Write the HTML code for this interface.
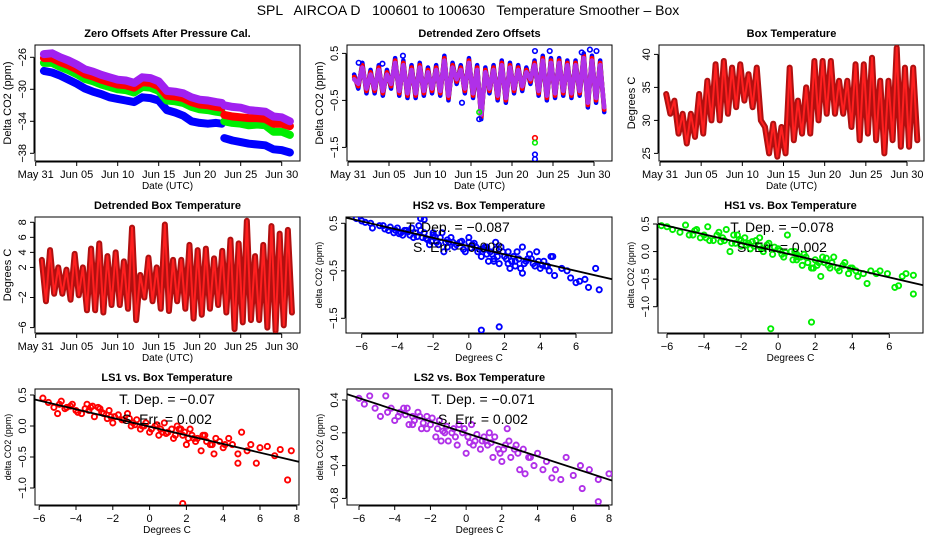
<!DOCTYPE html>
<html><head><meta charset="utf-8"><style>
html,body{margin:0;padding:0;background:#fff;}
svg{display:block;font-family:"Liberation Sans",Arial,sans-serif;}
</style></head><body>
<svg id="c" width="936" height="540" viewBox="0 0 936 540">
<text x="468" y="15" text-anchor="middle" font-size="14" style="white-space:pre">SPL   AIRCOA D   100601 to 100630   Temperature Smoother – Box</text>
</svg>
<script>
// ---- data ----
const dateTicks = [0,5,10,15,20,25,30];
const dateTickLabels = ["May 31","Jun 05","Jun 10","Jun 15","Jun 20","Jun 25","Jun 30"];
const zoDays = [1,2,3,4,5,6,7,8,9,10,11,12,13,14,15,16,17,18,19,20,21,22,22.7,23,24,25,26,27,28,29,30,31];
const zoPurple = [-25.6,-25.5,-26.0,-26.4,-26.9,-27.5,-27.8,-28.2,-28.5,-28.8,-28.9,-29.2,-28.5,-28.6,-29.0,-30.2,-30.3,-30.5,-31.0,-31.3,-31.4,-31.6,-31.7,-32.0,-32.2,-32.3,-32.6,-32.7,-32.8,-33.4,-33.5,-34.0];
const zoRed = [-26.1,-26.1,-26.6,-27.0,-27.5,-28.1,-28.4,-28.8,-29.1,-29.4,-29.5,-29.8,-29.1,-29.2,-29.6,-30.8,-30.9,-31.1,-31.6,-31.9,-32.0,-32.2,-32.3,-33.2,-33.4,-33.5,-33.6,-33.6,-33.7,-34.3,-34.3,-34.6];
const zoGreen = [-26.7,-26.7,-27.2,-27.6,-28.1,-28.7,-29.0,-29.4,-29.7,-30.0,-30.1,-30.4,-29.7,-29.8,-30.2,-31.4,-31.5,-31.7,-32.2,-32.5,-32.6,-32.8,-32.9,-34.0,-34.2,-34.3,-34.5,-34.4,-34.5,-35.3,-35.3,-35.7];
const zoBlue = [-27.7,-27.9,-28.3,-28.8,-29.3,-29.9,-30.3,-30.6,-31.0,-31.2,-31.4,-31.6,-31.0,-31.1,-31.4,-32.6,-32.9,-33.3,-34.0,-34.2,-34.3,-34.2,-34.3,-36.1,-36.4,-36.6,-36.8,-36.9,-37.0,-37.5,-37.6,-37.9];
const detMax = [0.0,0.25,0.1,0.2,0.1,0.35,0.3,0.2,0.25,0.15,0.2,0.4,0.25,0.2,0.35,0.2,0.15,0.2,0.3,0.25,0.2,0.15,0.3,0.4,0.35,0.35,0.3,0.3,0.45,0.4,0.3];
const detMin = [-0.2,-0.3,-0.3,-0.35,-0.2,-0.35,-0.4,-0.4,-0.35,-0.3,-0.35,-0.45,-0.1,-0.3,-0.4,-0.85,-0.3,-0.45,-0.5,-0.3,-0.25,-0.1,-0.35,-0.45,-0.4,-0.35,-0.4,-0.35,-0.6,-0.5,-0.7];
const detOutDay = [22.8,22.8,22.8,22.8,22.8,1.3,4.2,6.7,24.6,28.5,29.5,30.3,16.0,16.0,13.9];
const detOutVal = [-1.65,-1.75,-1.3,-1.4,0.55,0.3,0.28,0.45,0.55,0.52,0.58,0.55,-0.75,-0.9,-0.55];
const detOutColor = ["#0000ff","#0000ff","#ff0000","#00ee00","#0000ff","#0000ff","#0000ff","#0000ff","#0000ff","#0000ff","#0000ff","#0000ff","#00ee00","#0000ff","#0000ff"];
const boxMax = [34,33,31,31,34,36,38.5,39,38,38.5,37,38,29,29.5,29,38,33,35,39,39,39,36,36,38.5,38.5,39.5,36,36,41,38,38];
const boxMin = [31,28,26.5,27.5,28,30,30,31,32,33,32,30,25,24.5,25,27,28,28,30,31,31,31,29,27,28,27,25,27,26,26,27];
const dbMax = [3,4.3,2,1.7,3.8,2,4.5,5.2,3.5,4,2.8,7.3,1,3.3,2,7.7,3,3,5,4.3,4.5,3.2,4.2,5.7,5.2,8.2,3.5,5,7.5,6.5,7];
const dbMin = [-2.5,-1.5,-1.5,-2.3,-1.7,-3.7,-3.7,-4,-3,-3,-3.5,-5,-2,-2.5,-3.5,-3.8,-2.5,-3.5,-4.8,-4.3,-3.5,-3,-4,-6.2,-5.3,-5,-5,-6,-6.4,-5.7,-4];
const hs2X = [-6.3,-6.0,-5.8,-5.5,-5.4,-5.0,-4.7,-4.4,-4.2,-4.0,-3.8,-3.5,-3.3,-3.0,-2.8,-2.6,-2.5,-2.3,-2.0,-1.8,-1.5,-1.4,-1.2,-1.0,-0.8,-0.5,-0.3,0.0,0.2,0.5,0.7,0.9,1.1,1.3,1.5,1.7,1.9,2.1,2.3,2.5,2.7,3.0,3.2,3.4,3.6,3.8,4.0,4.2,4.5,4.7,4.8,5.2,5.5,5.7,6.0,6.2,6.5,6.7,7.1,7.3,0.7,1.7,-2.7,-2.5,1.5,2.2,3.0,4.6,-3.6,-3.1,-2.2,-1.6,-0.9,0.4,1.0,1.4,2.0,2.6,3.3,3.9,4.3,-4.5,-1.1,0.8,
  -4.8,-4.1,-3.9,-3.4,-2.9,-2.4,-2.1,-1.9,-1.7,-1.3,-0.7,-0.4,0.1,0.3,0.6,1.2,1.6,1.8,2.4,2.8,3.1,3.5,3.7,4.1,4.4,-3.2,-2.7,-1.2,0.0,1.0,2.2,2.9,3.3,-3.7,-2.0,-0.2,1.4,2.6];
const hs2Y = [0.6,0.55,0.52,0.5,0.4,0.45,0.38,0.42,0.3,0.4,0.3,0.35,0.25,0.3,0.45,0.2,0.3,0.15,0.25,0.1,0.3,-0.1,0.15,0.2,0.0,0.1,-0.05,0.2,0.05,-0.1,-0.2,0.0,-0.3,-0.15,0.1,-0.35,-0.1,-0.25,-0.45,-0.2,-0.1,-0.55,-0.3,-0.15,-0.35,-0.1,-0.45,-0.3,-0.5,-0.2,-0.6,-0.45,-0.5,-0.65,-0.75,-0.72,-0.68,-0.85,-0.45,-0.9,-1.75,-1.68,0.6,0.58,-0.05,-0.1,0.0,-0.2,0.35,0.2,0.05,0.2,0.1,0.0,-0.15,-0.25,-0.2,-0.3,-0.25,-0.3,-0.4,0.35,0.1,-0.05,
  0.45,0.35,0.28,0.32,0.22,0.18,0.12,0.22,0.05,0.1,0.05,0.12,-0.02,0.08,-0.05,-0.1,-0.2,0.0,-0.3,-0.25,-0.35,-0.25,-0.4,-0.38,-0.4,0.4,0.35,0.0,0.1,0.0,-0.35,-0.45,-0.25,0.25,0.3,-0.1,-0.3,-0.4];
const hs1X = [-6.3,-6.0,-5.7,-5.3,-5.0,-4.8,-4.5,-4.2,-4.0,-3.8,-3.5,-3.2,-3.0,-2.8,-2.5,-2.2,-2.0,-1.8,-1.5,-1.2,-1.0,-0.8,-0.5,-0.3,0.0,0.3,0.5,0.8,1.0,1.3,1.5,1.8,2.0,2.3,2.5,2.8,3.0,3.3,3.5,3.8,4.0,4.3,4.6,4.8,5.0,5.3,5.5,5.9,6.3,6.5,6.7,6.9,7.3,7.3,-0.4,1.8,-3.7,-2.6,-1.0,0.9,2.2,3.6,-4.6,-1.6,0.2,1.2,2.7,
  -4.4,-3.9,-3.3,-2.9,-2.4,-2.1,-1.7,-1.4,-0.9,-0.6,-0.2,0.4,0.7,1.1,1.4,1.6,2.1,2.4,2.9,3.2,3.9,4.2,-3.1,-2.3,-1.3,0.1,1.0,2.6,1.9,-2.0];
const hs1Y = [0.47,0.45,0.4,0.35,0.48,0.3,0.38,0.25,0.3,0.45,0.2,0.35,0.25,0.4,0.15,0.3,0.1,0.25,0.05,0.2,0.1,0.0,0.15,-0.05,0.05,-0.1,0.3,-0.15,-0.05,-0.25,-0.1,-0.3,-0.15,-0.45,-0.2,-0.3,-0.1,-0.35,-0.25,-0.4,-0.3,-0.45,-0.4,-0.58,-0.35,-0.4,-0.35,-0.4,-0.65,-0.62,-0.45,-0.4,-0.43,-0.77,-1.4,-1.28,0.2,0.0,0.25,0.0,-0.2,-0.2,0.3,0.15,-0.05,-0.1,-0.25,
  0.4,0.25,0.3,0.2,0.3,0.22,0.12,0.18,0.05,0.12,0.08,-0.02,0.0,-0.1,-0.05,-0.2,-0.25,-0.1,-0.2,-0.3,-0.3,-0.35,0.18,0.15,0.1,0.02,-0.15,-0.12,-0.3,0.2];
const ls1X = [-5.8,-5.5,-5.2,-5.0,-4.8,-4.5,-4.2,-4.0,-3.7,-3.4,-3.2,-3.0,-2.7,-2.5,-2.2,-2.0,-1.7,-1.5,-1.2,-1.0,-0.7,-0.5,-0.2,0.0,0.3,0.5,0.8,1.0,1.3,1.5,1.8,2.0,2.2,2.5,2.8,3.0,3.3,3.5,3.8,4.0,4.3,4.5,4.8,5.0,5.3,5.5,5.8,6.0,6.4,6.8,7.1,7.5,7.7,1.8,4.8,-4.9,-2.8,-0.9,0.6,1.6,2.4,3.1,
  -4.6,-4.3,-3.9,-3.5,-3.1,-2.6,-2.3,-1.9,-1.4,-1.1,-0.8,-0.3,0.1,0.4,0.9,1.2,1.4,1.9,2.1,2.6,2.9,3.4,3.6,4.1,-3.3,-2.1,-0.4,0.7,1.7,2.3];
const ls1Y = [0.45,0.38,0.3,0.2,0.4,0.3,0.35,0.25,0.2,0.35,0.3,0.15,0.28,0.2,0.25,0.05,0.18,0.1,0.2,0.0,0.1,-0.05,0.05,-0.1,0.0,-0.15,0.05,-0.1,-0.2,0.0,-0.15,-0.3,-0.05,-0.25,-0.4,-0.15,-0.3,-0.45,-0.25,-0.35,-0.2,-0.3,-0.6,-0.1,-0.4,-0.3,-0.6,-0.35,-0.33,-0.48,-0.38,-0.87,-0.4,-1.25,-0.45,0.35,0.3,0.05,-0.05,-0.05,-0.2,-0.25,
  0.28,0.32,0.22,0.28,0.32,0.22,0.12,0.15,0.1,0.12,0.02,0.0,-0.05,0.02,-0.12,-0.05,-0.15,-0.1,-0.2,-0.2,-0.15,-0.3,-0.2,-0.3,0.25,0.15,0.0,-0.1,-0.05,-0.15];
const ls2X = [-6.0,-5.7,-5.4,-5.1,-4.8,-4.5,-4.2,-4.0,-3.7,-3.5,-3.2,-3.0,-2.7,-2.5,-2.2,-2.0,-1.7,-1.5,-1.2,-1.0,-0.7,-0.5,-0.2,0.0,0.3,0.5,0.8,1.0,1.3,1.5,1.8,2.0,2.3,2.5,2.8,3.0,3.3,3.5,3.8,4.0,4.3,4.5,4.8,5.0,5.3,5.6,6.0,6.4,6.5,6.9,7.4,7.4,8.0,-3.0,-2.2,-1.4,-0.6,0.4,1.1,1.9,2.7,-4.4,
  -3.8,-3.3,-2.9,-2.4,-1.9,-1.6,-1.1,-0.8,-0.4,0.1,0.6,0.9,1.2,1.6,2.1,2.4,2.9,3.2,3.6,-2.6,-1.3,0.2,1.4,2.2,-3.4,-0.1];
const ls2Y = [0.42,0.35,0.45,0.3,0.2,0.45,0.3,0.15,0.25,0.3,0.1,0.2,0.25,0.05,0.2,0.1,-0.05,0.15,0.0,-0.1,0.05,-0.15,0.0,-0.25,0.1,-0.1,-0.2,-0.05,0.0,-0.3,-0.2,-0.35,0.05,-0.3,-0.15,-0.45,-0.5,-0.3,-0.4,-0.25,-0.45,-0.35,-0.55,-0.45,-0.57,-0.3,-0.52,-0.4,-0.68,-0.45,-0.84,-0.57,-0.5,0.1,0.05,-0.1,-0.05,-0.15,-0.1,-0.25,-0.2,0.25,
  0.2,0.3,0.15,0.12,0.18,0.05,0.08,0.0,0.1,-0.05,-0.02,-0.1,-0.15,-0.05,-0.2,-0.1,-0.25,-0.2,-0.3,0.2,0.02,-0.12,-0.12,-0.15,0.22,0.05];
const fitSlope = [-0.087,-0.078,-0.07,-0.071];
const fitIntercept = [0.02,0.0,-0.01,-0.003];
const fitLabels = ["−0.087","−0.078","−0.07","−0.071"];
const errLabels = ["0.008","0.002","0.002","0.002"];

// ---- helpers ----
const NS = "http://www.w3.org/2000/svg";
const svg = document.getElementById("c");
function mk(tag, attrs, parent){
  const e = document.createElementNS(NS, tag);
  for (const k in attrs) e.setAttribute(k, attrs[k]);
  (parent||svg).appendChild(e);
  return e;
}
function linear(d0,d1,r0,r1){ return v => r0 + (v-d0)*(r1-r0)/(d1-d0); }

function panel(name, box, title, xs, ys, xTicks, xLabels, yTicks, yLabels, xTitle, yTitle){
  const g = mk("g", {});
  
  
  const t = mk("text", {x:(box.l+box.r)/2, y:box.t-8, "text-anchor":"middle", "font-size":"11", "font-weight":"bold"}, g);
  t.textContent = title;
  
  
  const fr = mk("rect", {x:box.l, y:box.t, width:box.r-box.l, height:box.b-box.t, fill:"none", stroke:"#000", "stroke-width":"1"}, g);
  
  
  const ax = mk("g", {}, g);
  
  
  const xp0 = xs(xTicks[0]), xp1 = xs(xTicks[xTicks.length-1]);
  mk("line", {x1:xp0, x2:xp1, y1:box.b+1, y2:box.b+1, stroke:"#000"}, ax);
  xTicks.forEach((v,i)=>{
    const x = xs(v);
    mk("line", {x1:x, x2:x, y1:box.b+1, y2:box.b+5, stroke:"#000"}, ax);
    const lt = mk("text", {x:x, y:box.b+17, "text-anchor":"middle", "font-size":"11"}, ax);
    lt.textContent = xLabels[i];
    
    
  });
  const xt = mk("text", {x:(box.l+box.r)/2, y:box.b+28, "text-anchor":"middle", "font-size":"10"}, g);
  xt.textContent = xTitle;
  
  
  const ay = mk("g", {}, g);
  
  
  mk("line", {x1:box.l-1, x2:box.l-1, y1:ys(yTicks[0]), y2:ys(yTicks[yTicks.length-1]), stroke:"#000"}, ay);
  yTicks.forEach((v,i)=>{
    const y = ys(v);
    mk("line", {x1:box.l-5, x2:box.l-1, y1:y, y2:y, stroke:"#000"}, ay);
    const lt = mk("text", {x:box.l-9, y:y, "text-anchor":"middle", "font-size":"11", transform:`rotate(-90 ${box.l-9} ${y})`}, ay);
    lt.textContent = yLabels[i];
    
    
  });
  const yx = box.l-24, yy = (box.t+box.b)/2;
  const yt = mk("text", {x:yx, y:yy, "text-anchor":"middle", "font-size": yTitle.startsWith("delta")?"9":"11", transform:`rotate(-90 ${yx} ${yy})`}, g);
  yt.textContent = yTitle;
  
  
  const clip = "cp"+name;
  const cp = mk("clipPath", {id:clip}, g);
  mk("rect", {x:box.l, y:box.t, width:box.r-box.l, height:box.b-box.t}, cp);
  const plot = mk("g", {"clip-path":`url(#${clip})`}, g);
  
  
  return plot;
}
function polyline(parent, pts, color, w, name){
  const p = mk("polyline", {points:pts.map(p=>p.join(",")).join(" "), fill:"none", stroke:color, "stroke-width":w, "stroke-linejoin":"round", "stroke-linecap":"round"}, parent);
  
  
  return p;
}
function zig(days, mx, mn, xs, ys){
  const pts = [];
  mx.forEach((v,i)=>{ const d = i+1; pts.push([xs(d-0.25), ys(v)]); pts.push([xs(d+0.25), ys(mn[i])]); });
  return pts;
}

// ---- panel 1: zero offsets ----
{
  const box = {l:35,r:300,t:45,b:161};
  const xs = linear(0,30,35.7,281.7), ys = linear(-26,-38,57.3,153.3);
  const p = panel("zero-offsets-panel", box, "Zero Offsets After Pressure Cal.", xs, ys, dateTicks, dateTickLabels, [-26,-30,-34,-38], ["−26","−30","−34","−38"], "Date (UTC)", "Delta CO2 (ppm)");
  const series = [[zoBlue,"#0000ff","series-blue"],[zoGreen,"#00ee00","series-green"],[zoRed,"#ff0000","series-red"],[zoPurple,"#a020f0","series-purple"]];
  series.forEach(([vals,col,nm])=>{
    const a=[], b=[];
    zoDays.forEach((d,i)=>{ (d<=22.7?a:b).push([xs(d), ys(vals[i])]); });
    polyline(p, a, col, 8, nm);
    polyline(p, b, col, 8, nm);
  });
}
// ---- panel 2: detrended zero offsets ----
{
  const box = {l:347,r:612,t:45,b:161};
  const xs = linear(0,30,348,594), ys = linear(0.5,-1.5,53.4,147.4);
  const p = panel("detrended-offsets-panel", box, "Detrended Zero Offsets", xs, ys, dateTicks, dateTickLabels, [0.5,-0.5,-1.5], ["0.5","−0.5","−1.5"], "Date (UTC)", "Delta CO2 (ppm)");
  polyline(p, zig(null, detMax.map(v=>v+0.05), detMin.map(v=>v-0.05), xs, ys), "#0000ff", 4.5, "series-blue");
  polyline(p, zig(null, detMax.map(v=>v-0.02), detMin.map(v=>v+0.02), xs, ys), "#00dd00", 4.5, "series-green");
  polyline(p, zig(null, detMax, detMin, xs, ys), "#ff0000", 4.5, "series-red");
  polyline(p, zig(null, detMax.map(v=>v-0.05), detMin.map(v=>v+0.05), xs, ys), "#b030e8", 4.5, "series-purple");
  detOutDay.forEach((d,i)=>{
    const c = mk("circle", {cx:xs(d), cy:ys(detOutVal[i]), r:2.3, fill:"none", stroke:detOutColor[i], "stroke-width":1.6}, p);
    
    
  });
}
// ---- panel 3: box temperature ----
{
  const box = {l:659,r:924,t:45,b:161};
  const xs = linear(0,30,660,907), ys = linear(40,25,54.4,153.4);
  const p = panel("box-temperature-panel", box, "Box Temperature", xs, ys, dateTicks, dateTickLabels, [25,30,35,40], ["25","30","35","40"], "Date (UTC)", "Degrees C");
  polyline(p, zig(null, boxMax, boxMin, xs, ys), "#b01010", 6, "series-box-temp");
  polyline(p, zig(null, boxMax, boxMin, xs, ys), "#ff2020", 2, "series-box-temp-highlight");
}
// ---- panel 4: detrended box temperature ----
{
  const box = {l:35,r:300,t:217,b:333};
  const xs = linear(0,30,35.7,281.7), ys = linear(8,-6,222.3,327.6);
  const p = panel("detrended-box-temp-panel", box, "Detrended Box Temperature", xs, ys, dateTicks, dateTickLabels, [-6,-2,2,4,6,8], ["−6","−2","2","4","6","8"], "Date (UTC)", "Degrees C");
  polyline(p, zig(null, dbMax, dbMin, xs, ys), "#b01010", 6, "series-detrended-temp");
  polyline(p, zig(null, dbMax, dbMin, xs, ys), "#ff2020", 2, "series-detrended-temp-highlight");
}
// ---- scatter panels ----
function scatter(name, title, box, xs, ys, xT, xL, yT, yL, X, Y, color, k, tx){
  const p = panel(name, box, title, xs, ys, xT, xL, yT, yL, "Degrees C", "delta CO2 (ppm)");
  X.forEach((x,i)=>{
    const c = mk("circle", {cx:xs(x), cy:ys(Y[i]), r:2.6, fill:"none", stroke:color, "stroke-width":1.9}, p);
    
    
  });
  const x0 = -8, x1 = 10;
  const ln = mk("line", {x1:xs(x0), y1:ys(fitIntercept[k]+fitSlope[k]*x0), x2:xs(x1), y2:ys(fitIntercept[k]+fitSlope[k]*x1), stroke:"#000", "stroke-width":1.8}, p);
  
  
  const t1 = mk("text", {x:tx, y:box.t+15, "text-anchor":"middle", "font-size":"14"});
  t1.textContent = "T. Dep. =  " + fitLabels[k];
  
  
  const t2 = mk("text", {x:tx, y:box.t+35, "text-anchor":"middle", "font-size":"14"});
  t2.textContent = "S. Err. =  " + errLabels[k];
  
  
}
scatter("hs2-scatter-panel","HS2 vs. Box Temperature",{l:346,r:612,t:217,b:333},
  linear(-6,6,361.7,576), linear(0.5,-1.5,223.3,318.3),
  [-6,-4,-2,0,2,4,6],["−6","−4","−2","0","2","4","6"],[0.5,-0.5,-1.5],["0.5","−0.5","−1.5"],
  hs2X, hs2Y, "#0000ff", 0, 458);
scatter("hs1-scatter-panel","HS1 vs. Box Temperature",{l:658,r:923,t:217,b:333},
  linear(-6,6,667,889.3), linear(0.5,-1.0,224,306.7),
  [-6,-4,-2,0,2,4,6],["−6","−4","−2","0","2","4","6"],[0.5,0.0,-0.5,-1.0],["0.5","0.0","−0.5","−1.0"],
  hs1X, hs1Y, "#00ee00", 1, 782);
scatter("ls1-scatter-panel","LS1 vs. Box Temperature",{l:35,r:299,t:389,b:505},
  linear(-6,8,39.2,296.8), linear(0.5,-1.0,395,488),
  [-6,-4,-2,0,2,4,6,8],["−6","−4","−2","0","2","4","6","8"],[0.5,0.0,-0.5,-1.0],["0.5","0.0","−0.5","−1.0"],
  ls1X, ls1Y, "#ff0000", 2, 167);
scatter("ls2-scatter-panel","LS2 vs. Box Temperature",{l:347,r:612,t:389,b:505},
  linear(-6,8,359,609), linear(0.4,-0.8,400,498.4),
  [-6,-4,-2,0,2,4,6,8],["−6","−4","−2","0","2","4","6","8"],[0.4,0.0,-0.4,-0.8],["0.4","0.0","−0.4","−0.8"],
  ls2X, ls2Y, "#b030e8", 3, 483);
</script>
</body></html>
